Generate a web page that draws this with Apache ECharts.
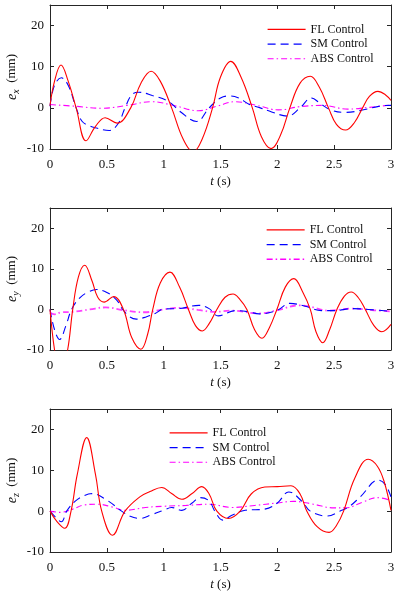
<!DOCTYPE html>
<html><head><meta charset="utf-8">
<script src="https://cdn.jsdelivr.net/npm/echarts@6/dist/echarts.min.js"></script>
<style>html,body{margin:0;padding:0;background:#fff}#c{width:395px;height:594px}</style>
</head><body><div id="c"></div>
<script>
// ---- data (t in s, error in mm) ----
const xTicks = ['0','0.5','1','1.5','2','2.5','3'];
const seriesNames = ['FL Control','SM Control','ABS Control'];

const flX = [[0,0.5],[0.04,6.5],[0.097,10.4],[0.16,6.5],[0.23,0],[0.317,-8.0],[0.40,-4.5],[0.485,-2.4],[0.59,-3.7],[0.71,0],[0.80,6.0],[0.89,8.9],[0.97,6.5],[1.07,0],[1.17,-7.5],[1.26,-10.7],[1.34,-7.5],[1.43,0],[1.50,7.5],[1.59,11.3],[1.68,7.5],[1.78,0],[1.86,-7.0],[1.945,-9.9],[2.03,-6.5],[2.11,0],[2.20,6.0],[2.29,7.7],[2.37,5.0],[2.45,0],[2.52,-4.0],[2.60,-5.4],[2.68,-3.5],[2.75,0],[2.81,2.8],[2.885,4.0],[2.95,3.2],[3.0,1.8]];
const smX = [[0,0.4],[0.04,5.5],[0.10,7.3],[0.16,5.5],[0.23,0],[0.28,-3.2],[0.34,-4.3],[0.41,-4.9],[0.52,-5.5],[0.60,-3.8],[0.66,0],[0.72,3.2],[0.78,3.8],[0.9,3.0],[1.04,1.6],[1.15,-1.0],[1.29,-3.3],[1.40,0],[1.5,2.4],[1.58,2.9],[1.66,2.4],[1.75,0.9],[1.85,0],[1.95,-1.0],[2.09,-2.0],[2.2,0],[2.30,2.4],[2.38,1.0],[2.47,-0.5],[2.60,-1.1],[2.77,-0.4],[2.92,0.5],[3.0,0.6]];
const absX = [[0,0.8],[0.22,0.4],[0.455,-0.1],[0.68,0.6],[0.895,1.5],[1.1,0.5],[1.306,-0.7],[1.47,0.4],[1.63,1.5],[1.82,0.6],[2.01,-0.5],[2.2,0.3],[2.4,0.6],[2.62,-0.3],[2.8,0.1],[3.0,0.7]];

const flY = [[0,0],[0.04,-10],[0.09,-17],[0.155,-10],[0.2,0],[0.25,8],[0.305,10.9],[0.37,7],[0.42,3],[0.476,1.8],[0.56,3.2],[0.646,0],[0.72,-7],[0.80,-9.8],[0.86,-6],[0.904,0],[0.97,6.5],[1.055,9.2],[1.14,5.5],[1.218,0],[1.28,-4],[1.34,-5.3],[1.40,-3.5],[1.468,0],[1.54,3],[1.61,3.8],[1.67,2.5],[1.732,0],[1.80,-5],[1.865,-7.1],[1.93,-4.5],[1.996,0],[2.07,5.5],[2.145,7.6],[2.22,4.5],[2.29,0],[2.34,-5.5],[2.40,-8.2],[2.46,-5],[2.524,0],[2.59,3.3],[2.65,4.3],[2.71,3],[2.774,0],[2.85,-4],[2.92,-5.5],[3.0,-3.7]];
const smY = [[0,0],[0.04,-5],[0.085,-7.4],[0.14,-4],[0.19,0],[0.26,2.8],[0.33,4.2],[0.41,4.9],[0.5,4.2],[0.587,2.3],[0.64,0],[0.70,-1.8],[0.76,-2.4],[0.85,-1.8],[0.925,-1.0],[1.0,0.1],[1.13,0.2],[1.31,1.0],[1.4,0.2],[1.48,-1.6],[1.63,-0.3],[1.75,-0.6],[1.84,-1.1],[2.0,-0.2],[2.11,1.5],[2.245,0.8],[2.39,-0.3],[2.5,-0.3],[2.66,0.2],[2.8,0],[3.0,-0.5]];
const absY = [[0,-0.8],[0.04,-1.2],[0.1,-0.7],[0.2,-0.6],[0.35,0.0],[0.49,0.5],[0.65,-0.2],[0.83,-0.7],[1.0,0.0],[1.15,0.4],[1.3,-0.1],[1.45,-0.6],[1.6,-0.3],[1.84,-1.0],[2.0,-0.2],[2.19,1.0],[2.3,0.6],[2.45,-0.3],[2.66,0.2],[2.85,-0.2],[3.0,-0.5]];

const flZ = [[0,0],[0.06,-2.5],[0.13,-4.2],[0.185,0],[0.24,9],[0.323,18.0],[0.40,9],[0.455,0],[0.55,-5.9],[0.66,0],[0.79,3.5],[0.88,4.8],[0.983,5.8],[1.07,4.3],[1.16,2.9],[1.25,4.3],[1.335,6.0],[1.40,4.2],[1.468,0],[1.57,-1.8],[1.673,0],[1.77,4.2],[1.89,5.9],[2.0,6.0],[2.12,6.2],[2.2,4.2],[2.26,0],[2.35,-3.8],[2.455,-5.2],[2.52,-3.5],[2.583,0],[2.68,8.0],[2.80,12.7],[2.88,11],[2.94,7.2],[3.0,0.2]];
const smZ = [[0,0],[0.05,-1.5],[0.10,-2.6],[0.147,0],[0.22,2.4],[0.30,3.8],[0.37,4.3],[0.5,2.7],[0.63,0],[0.70,-1.2],[0.79,-1.8],[0.9,-0.8],[1.0,0.2],[1.07,0.9],[1.16,0.2],[1.25,2.0],[1.32,3.3],[1.40,2.5],[1.45,0],[1.52,-2.2],[1.6,-1.0],[1.717,0.2],[1.89,0.5],[2.0,2.0],[2.1,4.7],[2.22,2.3],[2.29,0],[2.44,-1.2],[2.55,0],[2.627,1.0],[2.73,3.5],[2.89,7.6],[2.95,6.5],[3.0,3.5]];
const absZ = [[0,0],[0.09,-0.3],[0.2,0.5],[0.30,1.5],[0.42,1.7],[0.55,1.0],[0.66,0.2],[0.84,0.9],[1.0,1.2],[1.2,1.4],[1.4,1.7],[1.6,0.9],[1.8,1.4],[2.0,2.0],[2.14,2.4],[2.3,1.8],[2.5,0.8],[2.6,0.8],[2.75,2.2],[2.88,3.3],[3.0,2.6]];

const axisSubs = ['x','y','z'];
const panels = [[flX,smX,absX],[flY,smY,absY],[flZ,smZ,absZ]];

// ---- layout / style ----
const FONT = '"Liberation Serif", "Times New Roman", serif';
const AX = '#262626';
const grids = [
  {left:50, right:4, top:5, height:144},
  {left:50, right:4, top:208, height:142},
  {left:50, right:4, top:409, height:143}
];
const legendPos = [
  {left:267, top:22},
  {left:266, top:222.5},
  {left:169, top:425.5}
];
const colors = ['#ff0000','#0000ff','#ff00ff'];
const lineTypes = ['solid',[8,5],[6,3,1.5,3]];

const xAxes = [], yAxes = [], series = [], legends = [];
grids.forEach((g, i) => {
  g.containLabel = false;
  g.outerBoundsMode = 'none';
  xAxes.push({
    gridIndex:i, type:'value', min:0, max:3, interval:0.5,
    axisLine:{show:true, onZero:false, lineStyle:{color:AX, width:1}},
    axisTick:{show:true, inside:true, length:4, lineStyle:{color:AX}},
    splitLine:{show:false},
    axisLabel:{fontFamily:FONT, fontSize:13, color:'#111', margin:9,
      formatter:(v)=>xTicks[Math.round(v*2)]},
    name:'{i|t} (s)', nameLocation:'middle', nameGap:26, nameMoveOverlap:false,
    nameTextStyle:{fontFamily:FONT, fontSize:13, color:'#111',
      rich:{i:{fontFamily:FONT, fontStyle:'italic', fontSize:13, color:'#111'}}}
  });
  xAxes.push({
    gridIndex:i, type:'value', min:0, max:3, interval:0.5, position:'top',
    axisLine:{show:true, onZero:false, lineStyle:{color:AX, width:1}},
    axisTick:{show:true, inside:true, length:4, lineStyle:{color:AX}},
    splitLine:{show:false}, axisLabel:{show:false}
  });
  yAxes.push({
    gridIndex:i, type:'value', min:-10, max:25, interval:10,
    axisLine:{show:true, onZero:false, lineStyle:{color:AX, width:1}},
    axisTick:{show:true, inside:true, length:4, lineStyle:{color:AX}},
    splitLine:{show:false},
    axisLabel:{fontFamily:FONT, fontSize:13, color:'#111', margin:6, showMaxLabel:false},
    name:'{e|e}{s|' + axisSubs[i] + '}  (mm)', nameLocation:'middle', nameRotate:90, nameGap:29,
    nameMoveOverlap:false,
    nameTextStyle:{fontFamily:FONT, fontSize:13, color:'#111',
      rich:{
        e:{fontFamily:FONT, fontStyle:'italic', fontSize:14, color:'#111', lineHeight:18},
        s:{fontFamily:FONT, fontStyle:'italic', fontSize:10, color:'#111', verticalAlign:'bottom', lineHeight:10}
      }}
  });
  yAxes.push({
    gridIndex:i, type:'value', min:-10, max:25, interval:10, position:'right',
    axisLine:{show:true, onZero:false, lineStyle:{color:AX, width:1}},
    axisTick:{show:true, inside:true, length:4, lineStyle:{color:AX}},
    splitLine:{show:false}, axisLabel:{show:false}
  });
  panels[i].forEach((d, k) => {
    series.push({
      name: seriesNames[k], type:'line', xAxisIndex:2*i, yAxisIndex:2*i,
      data: d, smooth:0.4, symbol:'none', showSymbol:false, clip:true,
      lineStyle:{color:colors[k], width:(i===1 && k===2) ? 1.8 : 1.1, type:lineTypes[k],
        opacity:(i===1 && k===2) ? 0.75 : 1},
      itemStyle:{color:colors[k]},
      z: 3 - k
    });
  });
  legends.push({
    left:legendPos[i].left, top:legendPos[i].top, orient:'vertical',
    padding:0, itemGap:0, itemWidth:38, itemHeight:10,
    data: seriesNames,
    itemStyle:{opacity:0},
    lineStyle:{width:(i===1) ? 1.3 : 1.2},
    textStyle:{fontFamily:FONT, fontSize:12, color:'#111', lineHeight:14.7},
    selectedMode:false
  });
});

const chart = echarts.init(document.getElementById('c'), null, {renderer:'canvas'});
chart.setOption({
  animation:false,
  backgroundColor:'#fff',
  grid: grids,
  xAxis: xAxes,
  yAxis: yAxes,
  legend: legends,
  series: series
});
</script></body></html>
